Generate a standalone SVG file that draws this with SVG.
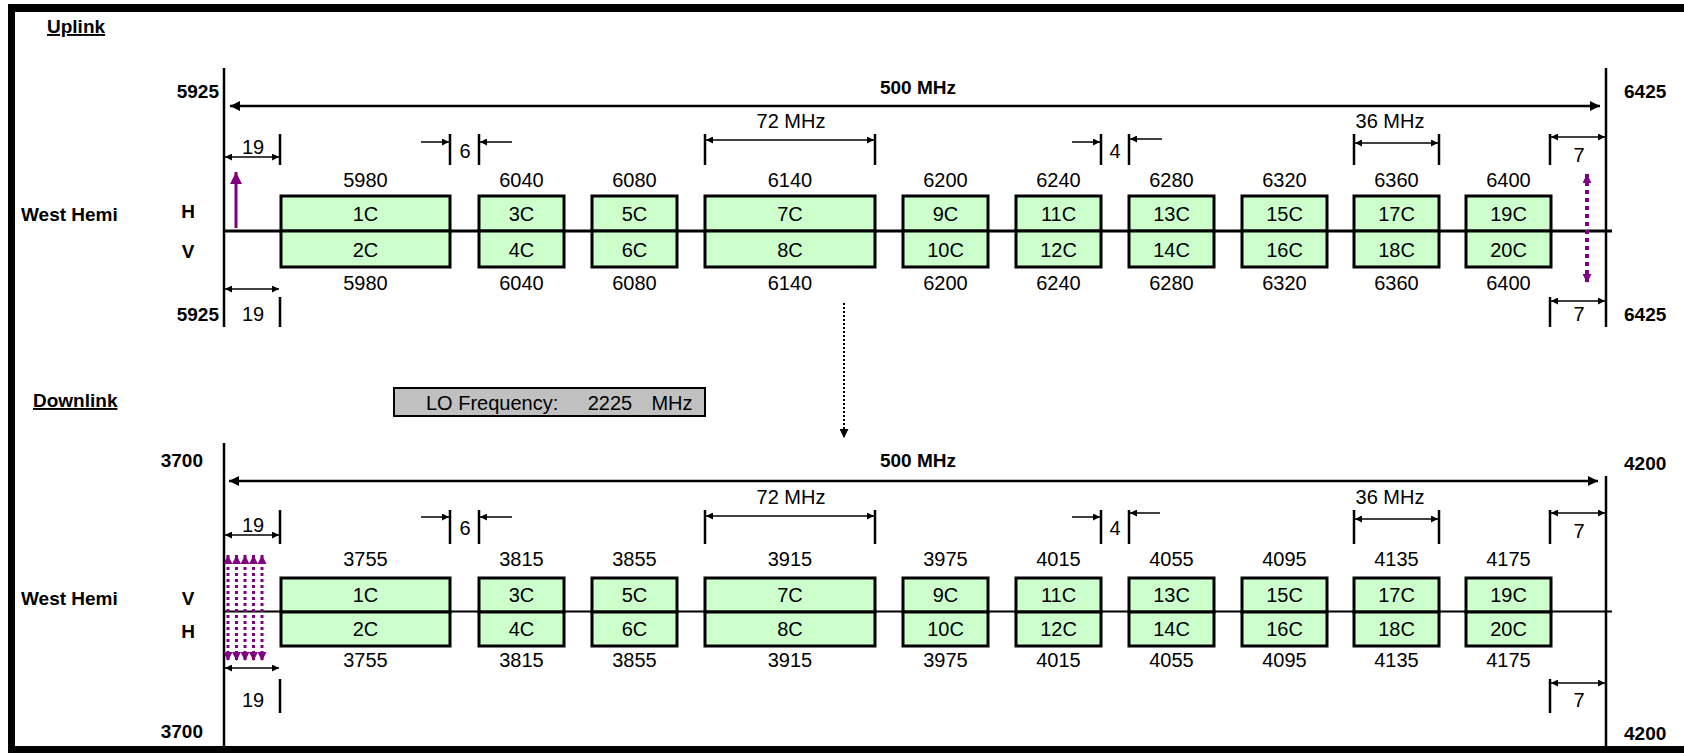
<svg xmlns="http://www.w3.org/2000/svg" width="1684" height="753" viewBox="0 0 1684 753">
<style>
  text { font-family: "Liberation Sans", Arial, sans-serif; font-size: 20px; fill: #000; }
  .b { font-weight: bold; font-size: 19px; }
  .m { text-anchor: middle; }
  .e { text-anchor: end; }
  .u { text-decoration: underline; }
  .box { fill: #ccffcc; stroke: #000; stroke-width: 3; }
  .edge { stroke: #000; stroke-width: 2.5; fill: none; }
  .tick { stroke: #000; stroke-width: 2.5; fill: none; }
  .dim { stroke: #000; stroke-width: 1.5; fill: none; }
  .big { stroke: #000; stroke-width: 2.5; fill: none; }
  .axis { stroke: #000; fill: none; }
  .pur { stroke: #800080; fill: none; }
</style>
<defs>
  <marker id="sa" viewBox="0 0 10 10" refX="10" refY="5" markerUnits="userSpaceOnUse" markerWidth="8" markerHeight="7" orient="auto-start-reverse">
    <path d="M0,0 L10,5 L0,10 z" fill="#000"/>
  </marker>
  <marker id="ba" viewBox="0 0 10 10" refX="10" refY="5" markerUnits="userSpaceOnUse" markerWidth="13" markerHeight="10" orient="auto-start-reverse">
    <path d="M0,0 L10,5 L0,10 z" fill="#000"/>
  </marker>
  <marker id="pa" viewBox="0 0 10 10" refX="10" refY="5" markerUnits="userSpaceOnUse" markerWidth="12" markerHeight="12" orient="auto-start-reverse">
    <path d="M0,0 L10,5 L0,10 z" fill="#800080"/>
  </marker>
  <marker id="pd" viewBox="0 0 10 10" refX="10" refY="5" markerUnits="userSpaceOnUse" markerWidth="10" markerHeight="9" orient="auto-start-reverse">
    <path d="M0,0 L10,5 L0,10 z" fill="#800080"/>
  </marker>
  <marker id="ka" viewBox="0 0 10 10" refX="10" refY="5" markerUnits="userSpaceOnUse" markerWidth="10" markerHeight="9" orient="auto-start-reverse">
    <path d="M0,0 L10,5 L0,10 z" fill="#000"/>
  </marker>
</defs>

<rect width="1684" height="753" fill="#fff"/>

<!-- frame -->
<g id="frame" fill="#000">
  <rect x="8" y="4" width="1676" height="8"/>
  <rect x="8" y="4" width="7" height="749"/>
  <rect x="8" y="746" width="1676" height="7"/>
</g>

<!-- section titles and labels -->
<g id="labels">
  <text class="b u" x="47" y="33">Uplink</text>
  <text class="b u" x="33" y="407">Downlink</text>
  <text class="b" x="21" y="221">West Hemi</text>
  <text class="b m" x="188" y="218">H</text>
  <text class="b m" x="188" y="258">V</text>
  <text class="b" x="21" y="605">West Hemi</text>
  <text class="b m" x="188" y="605">V</text>
  <text class="b m" x="188" y="638">H</text>
  <text class="b e" x="219" y="98">5925</text>
  <text class="b e" x="219" y="321">5925</text>
  <text class="b" x="1624" y="98">6425</text>
  <text class="b" x="1624" y="321">6425</text>
  <text class="b e" x="203" y="467">3700</text>
  <text class="b e" x="203" y="738">3700</text>
  <text class="b" x="1624" y="470">4200</text>
  <text class="b" x="1624" y="740">4200</text>
  <text class="b m" x="918" y="94">500 MHz</text>
  <text class="b m" x="918" y="467">500 MHz</text>
  <text class="m" x="791" y="128">72 MHz</text>
  <text class="m" x="1390" y="128">36 MHz</text>
  <text class="m" x="791" y="504">72 MHz</text>
  <text class="m" x="1390" y="504">36 MHz</text>
  <text class="m" x="253" y="154">19</text>
  <text class="m" x="253" y="321">19</text>
  <text class="m" x="253" y="532">19</text>
  <text class="m" x="253" y="707">19</text>
  <text class="m" x="465" y="158">6</text>
  <text class="m" x="465" y="535">6</text>
  <text class="m" x="1115" y="158">4</text>
  <text class="m" x="1115" y="535">4</text>
  <text class="m" x="1579" y="162">7</text>
  <text class="m" x="1579" y="321">7</text>
  <text class="m" x="1579" y="538">7</text>
  <text class="m" x="1579" y="707">7</text>
</g>

<!-- LO frequency box -->
<g id="lo-box">
  <rect x="394" y="388" width="311" height="28" fill="#c0c0c0" stroke="#000" stroke-width="2"/>
  <text x="426" y="410">LO Frequency:</text>
  <text class="m" x="610" y="410">2225</text>
  <text class="m" x="672" y="410">MHz</text>
</g>

<!-- band edges and axes -->
<g id="axes">
  <line class="edge" x1="224" y1="68" x2="224" y2="327"/>
  <line class="edge" x1="1606" y1="68" x2="1606" y2="327"/>
  <line class="axis" stroke-width="3" x1="224" y1="231" x2="1612" y2="231"/>
  <line class="edge" x1="224" y1="443" x2="224" y2="747"/>
  <line class="edge" x1="1606" y1="476" x2="1606" y2="747"/>
  <line class="axis" stroke-width="2" x1="224" y1="611.5" x2="1612" y2="611.5"/>
</g>

<!-- uplink channels -->
<g id="uplink-channels">
  <g id="up-1"><rect class="box" x="281" y="196" width="169" height="35"/><rect class="box" x="281" y="231" width="169" height="36"/><text class="m" x="365.5" y="187">5980</text><text class="m" x="365.5" y="221">1C</text><text class="m" x="365.5" y="257">2C</text><text class="m" x="365.5" y="290">5980</text></g>
  <g id="up-3"><rect class="box" x="479" y="196" width="85" height="35"/><rect class="box" x="479" y="231" width="85" height="36"/><text class="m" x="521.5" y="187">6040</text><text class="m" x="521.5" y="221">3C</text><text class="m" x="521.5" y="257">4C</text><text class="m" x="521.5" y="290">6040</text></g>
  <g id="up-5"><rect class="box" x="592" y="196" width="85" height="35"/><rect class="box" x="592" y="231" width="85" height="36"/><text class="m" x="634.5" y="187">6080</text><text class="m" x="634.5" y="221">5C</text><text class="m" x="634.5" y="257">6C</text><text class="m" x="634.5" y="290">6080</text></g>
  <g id="up-7"><rect class="box" x="705" y="196" width="170" height="35"/><rect class="box" x="705" y="231" width="170" height="36"/><text class="m" x="790" y="187">6140</text><text class="m" x="790" y="221">7C</text><text class="m" x="790" y="257">8C</text><text class="m" x="790" y="290">6140</text></g>
  <g id="up-9"><rect class="box" x="903" y="196" width="85" height="35"/><rect class="box" x="903" y="231" width="85" height="36"/><text class="m" x="945.5" y="187">6200</text><text class="m" x="945.5" y="221">9C</text><text class="m" x="945.5" y="257">10C</text><text class="m" x="945.5" y="290">6200</text></g>
  <g id="up-11"><rect class="box" x="1016" y="196" width="85" height="35"/><rect class="box" x="1016" y="231" width="85" height="36"/><text class="m" x="1058.5" y="187">6240</text><text class="m" x="1058.5" y="221">11C</text><text class="m" x="1058.5" y="257">12C</text><text class="m" x="1058.5" y="290">6240</text></g>
  <g id="up-13"><rect class="box" x="1129" y="196" width="85" height="35"/><rect class="box" x="1129" y="231" width="85" height="36"/><text class="m" x="1171.5" y="187">6280</text><text class="m" x="1171.5" y="221">13C</text><text class="m" x="1171.5" y="257">14C</text><text class="m" x="1171.5" y="290">6280</text></g>
  <g id="up-15"><rect class="box" x="1242" y="196" width="85" height="35"/><rect class="box" x="1242" y="231" width="85" height="36"/><text class="m" x="1284.5" y="187">6320</text><text class="m" x="1284.5" y="221">15C</text><text class="m" x="1284.5" y="257">16C</text><text class="m" x="1284.5" y="290">6320</text></g>
  <g id="up-17"><rect class="box" x="1354" y="196" width="85" height="35"/><rect class="box" x="1354" y="231" width="85" height="36"/><text class="m" x="1396.5" y="187">6360</text><text class="m" x="1396.5" y="221">17C</text><text class="m" x="1396.5" y="257">18C</text><text class="m" x="1396.5" y="290">6360</text></g>
  <g id="up-19"><rect class="box" x="1466" y="196" width="85" height="35"/><rect class="box" x="1466" y="231" width="85" height="36"/><text class="m" x="1508.5" y="187">6400</text><text class="m" x="1508.5" y="221">19C</text><text class="m" x="1508.5" y="257">20C</text><text class="m" x="1508.5" y="290">6400</text></g>
</g>

<!-- downlink channels -->
<g id="downlink-channels">
  <g id="dn-1"><rect class="box" x="281" y="578" width="169" height="34"/><rect class="box" x="281" y="612" width="169" height="34"/><text class="m" x="365.5" y="566">3755</text><text class="m" x="365.5" y="602">1C</text><text class="m" x="365.5" y="636">2C</text><text class="m" x="365.5" y="667">3755</text></g>
  <g id="dn-3"><rect class="box" x="479" y="578" width="85" height="34"/><rect class="box" x="479" y="612" width="85" height="34"/><text class="m" x="521.5" y="566">3815</text><text class="m" x="521.5" y="602">3C</text><text class="m" x="521.5" y="636">4C</text><text class="m" x="521.5" y="667">3815</text></g>
  <g id="dn-5"><rect class="box" x="592" y="578" width="85" height="34"/><rect class="box" x="592" y="612" width="85" height="34"/><text class="m" x="634.5" y="566">3855</text><text class="m" x="634.5" y="602">5C</text><text class="m" x="634.5" y="636">6C</text><text class="m" x="634.5" y="667">3855</text></g>
  <g id="dn-7"><rect class="box" x="705" y="578" width="170" height="34"/><rect class="box" x="705" y="612" width="170" height="34"/><text class="m" x="790" y="566">3915</text><text class="m" x="790" y="602">7C</text><text class="m" x="790" y="636">8C</text><text class="m" x="790" y="667">3915</text></g>
  <g id="dn-9"><rect class="box" x="903" y="578" width="85" height="34"/><rect class="box" x="903" y="612" width="85" height="34"/><text class="m" x="945.5" y="566">3975</text><text class="m" x="945.5" y="602">9C</text><text class="m" x="945.5" y="636">10C</text><text class="m" x="945.5" y="667">3975</text></g>
  <g id="dn-11"><rect class="box" x="1016" y="578" width="85" height="34"/><rect class="box" x="1016" y="612" width="85" height="34"/><text class="m" x="1058.5" y="566">4015</text><text class="m" x="1058.5" y="602">11C</text><text class="m" x="1058.5" y="636">12C</text><text class="m" x="1058.5" y="667">4015</text></g>
  <g id="dn-13"><rect class="box" x="1129" y="578" width="85" height="34"/><rect class="box" x="1129" y="612" width="85" height="34"/><text class="m" x="1171.5" y="566">4055</text><text class="m" x="1171.5" y="602">13C</text><text class="m" x="1171.5" y="636">14C</text><text class="m" x="1171.5" y="667">4055</text></g>
  <g id="dn-15"><rect class="box" x="1242" y="578" width="85" height="34"/><rect class="box" x="1242" y="612" width="85" height="34"/><text class="m" x="1284.5" y="566">4095</text><text class="m" x="1284.5" y="602">15C</text><text class="m" x="1284.5" y="636">16C</text><text class="m" x="1284.5" y="667">4095</text></g>
  <g id="dn-17"><rect class="box" x="1354" y="578" width="85" height="34"/><rect class="box" x="1354" y="612" width="85" height="34"/><text class="m" x="1396.5" y="566">4135</text><text class="m" x="1396.5" y="602">17C</text><text class="m" x="1396.5" y="636">18C</text><text class="m" x="1396.5" y="667">4135</text></g>
  <g id="dn-19"><rect class="box" x="1466" y="578" width="85" height="34"/><rect class="box" x="1466" y="612" width="85" height="34"/><text class="m" x="1508.5" y="566">4175</text><text class="m" x="1508.5" y="602">19C</text><text class="m" x="1508.5" y="636">20C</text><text class="m" x="1508.5" y="667">4175</text></g>
</g>

<!-- connectors: dimension lines, ticks, arrows -->
<g id="connectors">
  <!-- uplink -->
  <line class="big" x1="230" y1="106" x2="1600" y2="106" marker-start="url(#ba)" marker-end="url(#ba)"/>
  <line class="tick" x1="280" y1="134" x2="280" y2="165"/>
  <line class="dim" x1="225" y1="157" x2="279" y2="157" marker-start="url(#sa)" marker-end="url(#sa)"/>
  <line class="tick" x1="450" y1="134" x2="450" y2="165"/>
  <line class="tick" x1="479" y1="134" x2="479" y2="165"/>
  <line class="dim" x1="421" y1="142" x2="449" y2="142" marker-end="url(#sa)"/>
  <line class="dim" x1="512" y1="142" x2="480" y2="142" marker-end="url(#sa)"/>
  <line class="tick" x1="705" y1="134" x2="705" y2="165"/>
  <line class="tick" x1="875" y1="134" x2="875" y2="165"/>
  <line class="dim" x1="706" y1="140" x2="874" y2="140" marker-start="url(#sa)" marker-end="url(#sa)"/>
  <line class="tick" x1="1101" y1="134" x2="1101" y2="165"/>
  <line class="tick" x1="1129" y1="134" x2="1129" y2="165"/>
  <line class="dim" x1="1072" y1="142" x2="1100" y2="142" marker-end="url(#sa)"/>
  <line class="dim" x1="1162" y1="139" x2="1130" y2="139" marker-end="url(#sa)"/>
  <line class="tick" x1="1354" y1="134" x2="1354" y2="165"/>
  <line class="tick" x1="1439" y1="134" x2="1439" y2="165"/>
  <line class="dim" x1="1355" y1="143" x2="1438" y2="143" marker-start="url(#sa)" marker-end="url(#sa)"/>
  <line class="tick" x1="1550" y1="134" x2="1550" y2="165"/>
  <line class="dim" x1="1551" y1="137" x2="1605" y2="137" marker-start="url(#sa)" marker-end="url(#sa)"/>
  <line class="tick" x1="280" y1="297" x2="280" y2="327"/>
  <line class="dim" x1="225" y1="289" x2="279" y2="289" marker-start="url(#sa)" marker-end="url(#sa)"/>
  <line class="tick" x1="1550" y1="297" x2="1550" y2="327"/>
  <line class="dim" x1="1551" y1="301" x2="1605" y2="301" marker-start="url(#sa)" marker-end="url(#sa)"/>
  <line class="pur" stroke-width="3" x1="236" y1="228" x2="236" y2="172" marker-end="url(#pa)"/>
  <line class="pur" stroke-width="4" stroke-dasharray="4 4" x1="1587" y1="174" x2="1587" y2="283" marker-start="url(#pd)" marker-end="url(#pd)"/>
  <!-- LO translation arrow -->
  <line stroke="#000" stroke-width="2" stroke-dasharray="2 2" x1="844" y1="303" x2="844" y2="438" marker-end="url(#ka)"/>
  <!-- downlink -->
  <line class="big" x1="229" y1="481" x2="1598" y2="481" marker-start="url(#ba)" marker-end="url(#ba)"/>
  <line class="tick" x1="280" y1="510" x2="280" y2="544"/>
  <line class="dim" x1="225" y1="535" x2="279" y2="535" marker-start="url(#sa)" marker-end="url(#sa)"/>
  <line class="tick" x1="450" y1="510" x2="450" y2="544"/>
  <line class="tick" x1="479" y1="510" x2="479" y2="544"/>
  <line class="dim" x1="421" y1="517" x2="449" y2="517" marker-end="url(#sa)"/>
  <line class="dim" x1="512" y1="517" x2="480" y2="517" marker-end="url(#sa)"/>
  <line class="tick" x1="705" y1="510" x2="705" y2="544"/>
  <line class="tick" x1="875" y1="510" x2="875" y2="544"/>
  <line class="dim" x1="706" y1="516" x2="874" y2="516" marker-start="url(#sa)" marker-end="url(#sa)"/>
  <line class="tick" x1="1101" y1="510" x2="1101" y2="544"/>
  <line class="tick" x1="1129" y1="510" x2="1129" y2="544"/>
  <line class="dim" x1="1072" y1="517" x2="1100" y2="517" marker-end="url(#sa)"/>
  <line class="dim" x1="1160" y1="513" x2="1130" y2="513" marker-end="url(#sa)"/>
  <line class="tick" x1="1354" y1="510" x2="1354" y2="544"/>
  <line class="tick" x1="1439" y1="510" x2="1439" y2="544"/>
  <line class="dim" x1="1355" y1="519" x2="1438" y2="519" marker-start="url(#sa)" marker-end="url(#sa)"/>
  <line class="tick" x1="1550" y1="510" x2="1550" y2="544"/>
  <line class="dim" x1="1551" y1="513" x2="1605" y2="513" marker-start="url(#sa)" marker-end="url(#sa)"/>
  <line class="tick" x1="280" y1="679" x2="280" y2="713"/>
  <line class="dim" x1="225" y1="668" x2="279" y2="668" marker-start="url(#sa)" marker-end="url(#sa)"/>
  <line class="tick" x1="1550" y1="679" x2="1550" y2="713"/>
  <line class="dim" x1="1551" y1="683" x2="1605" y2="683" marker-start="url(#sa)" marker-end="url(#sa)"/>
  <g class="pur" stroke-width="3" stroke-dasharray="3 3">
    <line x1="228" y1="555" x2="228" y2="661" marker-start="url(#pd)" marker-end="url(#pd)"/>
    <line x1="236.5" y1="555" x2="236.5" y2="661" marker-start="url(#pd)" marker-end="url(#pd)"/>
    <line x1="245" y1="555" x2="245" y2="661" marker-start="url(#pd)" marker-end="url(#pd)"/>
    <line x1="253.5" y1="555" x2="253.5" y2="661" marker-start="url(#pd)" marker-end="url(#pd)"/>
    <line x1="262" y1="555" x2="262" y2="661" marker-start="url(#pd)" marker-end="url(#pd)"/>
  </g>
</g>
</svg>
